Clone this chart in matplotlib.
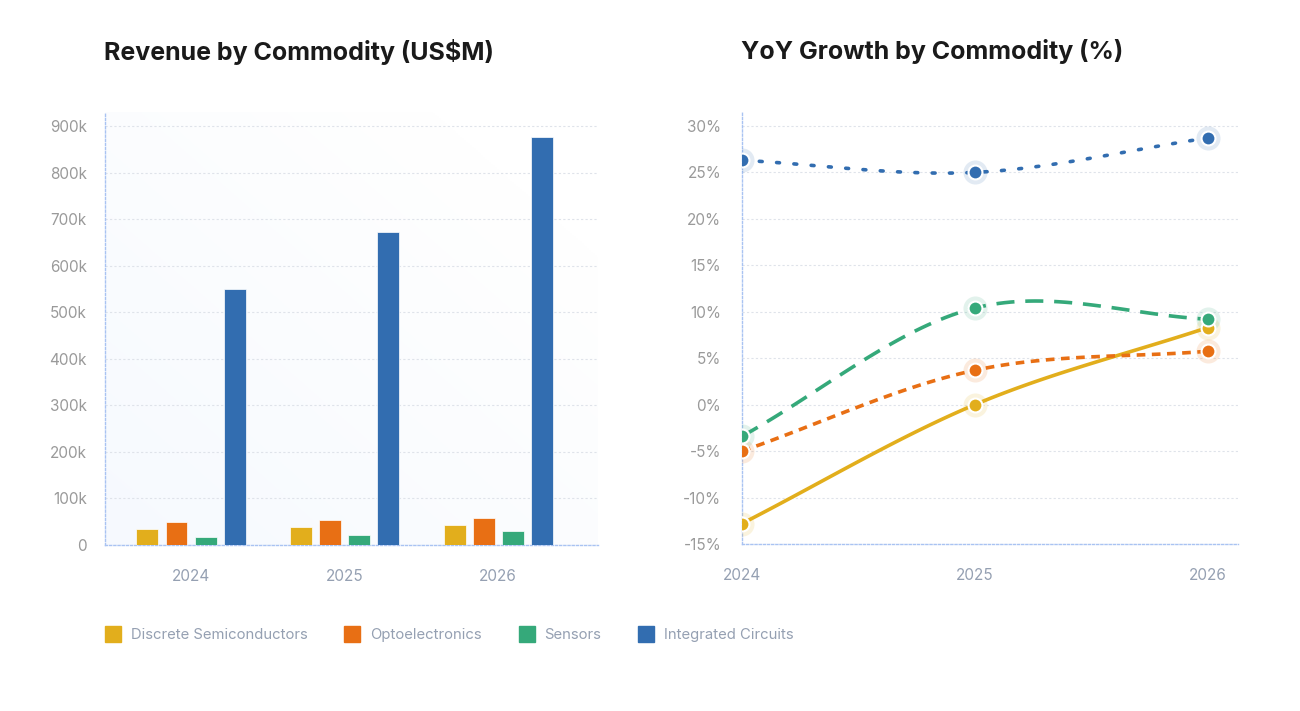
import numpy as np
import matplotlib
matplotlib.use('Agg')
import matplotlib.pyplot as plt
from matplotlib.lines import Line2D
from matplotlib.ticker import FuncFormatter

plt.rcParams['font.family'] = ['Inter', 'DejaVu Sans']

# data
years = ['2024', '2025', '2026']
commodities = ['Discrete Semiconductors', 'Optoelectronics', 'Sensors', 'Integrated Circuits']
colors = ['#e2ae1c', '#e86f14', '#35a97a', '#326db0']

revenue_discrete = [34000, 39000, 43000]
revenue_opto = [49000, 54000, 58000]
revenue_sensors = [17000, 21000, 30000]
revenue_ic = [550000, 672000, 876000]

growth_discrete = [-12.8, 0.0, 8.3]
growth_opto = [-5.0, 3.7, 5.75]
growth_sensors = [-3.4, 10.4, 9.2]
growth_ic = [26.3, 25.0, 28.7]

revenue = [revenue_discrete, revenue_opto, revenue_sensors, revenue_ic]
growth = [growth_discrete, growth_opto, growth_sensors, growth_ic]


def smooth(y, n=40):
    # catmull-rom style curve through the points
    y = np.asarray(y, dtype=float)
    k = len(y)
    m = np.zeros(k)
    for i in range(k):
        lo, hi = max(i - 1, 0), min(i + 1, k - 1)
        m[i] = (y[hi] - y[lo]) / (hi - lo)
    xs, ys = [], []
    for i in range(k - 1):
        t = np.linspace(0, 1, n)
        h00 = 2 * t**3 - 3 * t**2 + 1
        h10 = t**3 - 2 * t**2 + t
        h01 = -2 * t**3 + 3 * t**2
        h11 = t**3 - t**2
        xs.append(i + t)
        ys.append(h00 * y[i] + h10 * m[i] + h01 * y[i + 1] + h11 * m[i + 1])
    return np.concatenate(xs), np.concatenate(ys)


W, H = 1300, 711
fig = plt.figure(figsize=(W / 100, H / 100), dpi=100)

grid_color = '#dfe3ea'
axis_color = '#a9c3f2'
tick_gray = '#9a9a9a'
label_blue_gray = '#95a0b2'
title_color = '#1a1a1a'

# ---------- left: bar chart ----------
ax1 = fig.add_axes([105 / W, 1 - 545 / H, (598 - 105) / W, (545 - 112) / H])
x = np.arange(len(years))
bar_w = 0.143
pitch = 0.189
offsets = (np.arange(4) - 1.5) * pitch
for i, vals in enumerate(revenue):
    ax1.bar(x + offsets[i], vals, width=bar_w, color=colors[i], zorder=3,
            edgecolor='white', linewidth=0.5)

ax1.set_xlim(-0.56, 2.65)
ax1.set_ylim(0, 930000)

# faint gradient background, bluish towards bottom-left
grad = np.linspace(0, 1, 256)
gx, gy = np.meshgrid(grad, grad)
g = np.clip(1 - (gx * 0.6 + gy * 0.6), 0, 1)
bg = np.ones((256, 256, 3))
base = np.array([0.965, 0.978, 0.997])
for c in range(3):
    bg[:, :, c] = 1 - g * (1 - base[c])
ax1.imshow(bg, extent=[-0.56, 2.65, 0, 930000], origin='lower', aspect='auto', zorder=0)

ax1.set_yticks(np.arange(0, 900001, 100000))
ax1.yaxis.set_major_formatter(FuncFormatter(lambda v, p: '0' if v == 0 else f'{int(v / 1000)}k'))
ax1.set_xticks(x)
ax1.set_xticklabels(years)
ax1.grid(axis='y', color=grid_color, linestyle=(0, (2, 2)), linewidth=0.8, zorder=1)
ax1.tick_params(axis='y', length=0, pad=13, labelsize=11, labelcolor=tick_gray)
ax1.tick_params(axis='x', length=0, pad=17, labelsize=11, labelcolor=label_blue_gray)
for s in ['top', 'right']:
    ax1.spines[s].set_visible(False)
for s in ['left', 'bottom']:
    ax1.spines[s].set_color(axis_color)
    ax1.spines[s].set_linestyle((0, (1.5, 1.5)))
    ax1.spines[s].set_linewidth(1)
ax1.set_facecolor('white')

fig.text(104 / W, 1 - 52 / H, 'Revenue by Commodity (US$M)', fontsize=18, fontweight='bold',
         color=title_color, va='center', ha='left')

# ---------- right: line chart ----------
ax2 = fig.add_axes([742 / W, 1 - 544 / H, (1238 - 742) / W, (544 - 112) / H])
styles = ['-', (0, (2.4, 1.8)), (0, (5, 3)), (0, (0.8, 4.0))]
for i, vals in enumerate(growth):
    sx, sy = smooth(vals)
    ax2.plot(sx, sy, color=colors[i], linestyle=styles[i], linewidth=2.6,
             dash_capstyle='round' if i == 3 else 'butt', zorder=3)
for i, vals in enumerate(growth):
    ax2.scatter(x, vals, s=300, color=colors[i], alpha=0.14, linewidths=0, zorder=4)
    ax2.scatter(x, vals, s=100, color=colors[i], edgecolors='white', linewidths=1.5, zorder=5)

ax2.set_xlim(0, 2.13)
ax2.set_ylim(-15, 31.5)
ax2.set_yticks(np.arange(-15, 31, 5))
ax2.yaxis.set_major_formatter(FuncFormatter(lambda v, p: f'{int(v)}%'))
ax2.set_xticks(x)
ax2.set_xticklabels(years)
ax2.grid(axis='y', color=grid_color, linestyle=(0, (2, 2)), linewidth=0.8, zorder=1)
ax2.tick_params(axis='y', length=0, pad=15, labelsize=11, labelcolor=tick_gray)
ax2.tick_params(axis='x', length=0, pad=17, labelsize=11, labelcolor=label_blue_gray)
for s in ['top', 'right']:
    ax2.spines[s].set_visible(False)
for s in ['left', 'bottom']:
    ax2.spines[s].set_color(axis_color)
    ax2.spines[s].set_linestyle((0, (1.5, 1.5)))
    ax2.spines[s].set_linewidth(1)

fig.text(741 / W, 1 - 52 / H, 'YoY Growth by Commodity (%)', fontsize=18, fontweight='bold',
         color=title_color, va='center', ha='left')

# ---------- legend ----------
handles = [Line2D([0], [0], marker='s', linestyle='none', markersize=12,
                  markerfacecolor=c, markeredgecolor=c) for c in colors]
fig.legend(handles, commodities, loc='center left', bbox_to_anchor=(91 / W, 1 - 635 / H),
           ncol=4, frameon=False, fontsize=10.7, labelcolor=label_blue_gray,
           handletextpad=0.6, columnspacing=2.4, handlelength=1.2)

fig.savefig('out.png', dpi=100, facecolor='white')
